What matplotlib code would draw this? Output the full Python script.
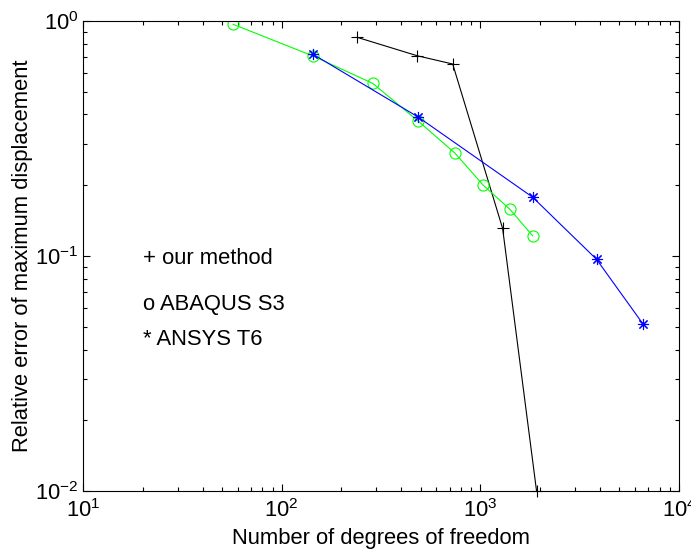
import numpy as np
import matplotlib
matplotlib.use("Agg")
import matplotlib.pyplot as plt

# donnees
dof_ours = [240, 482, 726, 1295, 1919]
err_ours = [0.852, 0.711, 0.656, 0.131, 0.01]

dof_abaqus = [57, 143, 287, 487, 745, 1035, 1409, 1833]
err_abaqus = [0.968, 0.711, 0.543, 0.375, 0.274, 0.200, 0.158, 0.122]

dof_ansys = [143, 487, 1833, 3846, 6607]
err_ansys = [0.724, 0.390, 0.178, 0.0968, 0.0512]

labels = ["+ our method", "o ABAQUS S3", "* ANSYS T6"]

plt.rcParams['font.family'] = ['Liberation Sans', 'DejaVu Sans']
plt.rcParams['mathtext.fontset'] = 'custom'
plt.rcParams['mathtext.rm'] = 'Liberation Sans'
plt.rcParams['mathtext.it'] = 'Liberation Sans'
fs = 15.8

fig = plt.figure(figsize=(6.91, 5.52), dpi=100)
ax = fig.add_axes([0.1201, 0.1105, 0.8625, 0.8515])

ax.loglog(dof_ours, err_ours, color='k', lw=0.8, marker='+', ms=8, mew=0.8, clip_on=False)
ax.loglog(dof_abaqus, err_abaqus, color=(0, 1, 0), lw=0.8, marker='o', ms=8, mfc='none', mew=0.8)
ax.loglog(dof_ansys, err_ansys, color=(0, 0, 1), lw=0.8, marker=(8, 2, 0), ms=8, mew=0.8)

ax.set_xlim(10, 1e4)
ax.set_ylim(1e-2, 1)

ax.set_xlabel("Number of degrees of freedom", fontsize=fs, labelpad=4)
ax.set_ylabel("Relative error of maximum displacement", fontsize=fs)
ax.yaxis.set_label_coords(-0.084, 0.5)

ax.tick_params(which='both', direction='in', top=True, right=True, labelsize=fs, width=0.8)
ax.tick_params(which='major', length=5)
ax.tick_params(which='minor', length=3)
ax.tick_params(axis='x', which='major', pad=6)
ax.tick_params(axis='y', which='major', pad=3)
for s in ax.spines.values():
    s.set_linewidth(0.8)

# legende ecrite a la main
ypos = [0.4823, 0.385, 0.3106]
for lab, yy in zip(labels, ypos):
    ax.text(0.100, yy, lab, transform=ax.transAxes, fontsize=fs, va='baseline')

fig.savefig("out.png", dpi=100)
